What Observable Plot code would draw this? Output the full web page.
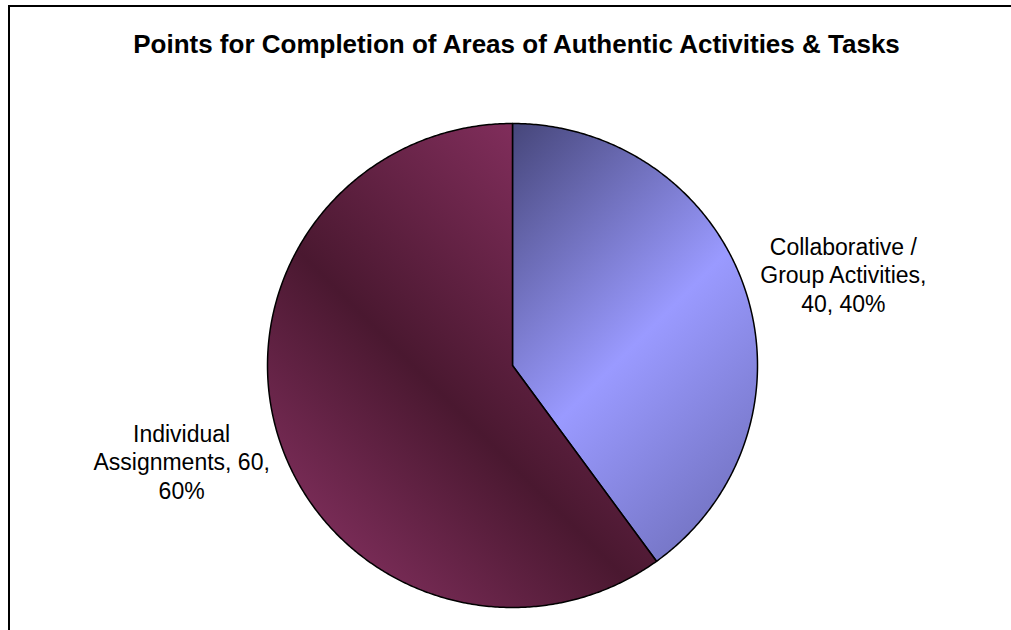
<!DOCTYPE html>
<html>
<head>
<meta charset="utf-8">
<script src="https://cdn.jsdelivr.net/npm/d3@7"></script>
<script src="https://cdn.jsdelivr.net/npm/@observablehq/plot@0.6"></script>
<style>
  body { margin: 0; background: #fff; }
  #wrap { position: relative; width: 1011px; height: 630px; overflow: hidden; background: #fff; font-family: "Liberation Sans", Arial, sans-serif; }
  #frame { position: absolute; left: 8px; top: 5px; width: 1100px; height: 700px; border-left: 2px solid #000; border-top: 2px solid #000; }
  #title { position: absolute; left: 0; top: 29px; width: 1033px; text-align: center; font-size: 26px; line-height: 30px; font-weight: bold; color: #000; white-space: nowrap; }
  #chart { position: absolute; left: 0; top: 70px; }
</style>
</head>
<body>
<div id="wrap">
  <div id="frame"></div>
  <div id="title"></div>
  <div id="chart"></div>
</div>
<script>
// ---- data ----
const title = "Points for Completion of Areas of Authentic Activities & Tasks";
const categories = ["Collaborative / Group Activities", "Individual Assignments"];
const values = [40, 60];
const gradientIds = ["gradCollab", "gradIndiv"];

document.getElementById("title").textContent = title;

// ---- geometry derived from data ----
const total = d3.sum(values);
const arcs = d3.pie().sort(null).value(d => d)(values);

const slicePoints = arcs.map((a, i) => {
  const pts = [{x: 0, y: 0, k: i}];
  const n = Math.max(2, Math.ceil((a.endAngle - a.startAngle) / (Math.PI / 360)));
  for (let j = 0; j <= n; j++) {
    const t = a.startAngle + (a.endAngle - a.startAngle) * j / n;
    pts.push({x: Math.sin(t), y: Math.cos(t), k: i});
  }
  pts.push({x: 0, y: 0, k: i});
  return pts;
});

function wrap(text, maxChars) {
  const words = text.split(" ");
  const lines = [];
  let cur = "";
  for (const w of words) {
    if (cur && (cur + " " + w).length > maxChars) { lines.push(cur); cur = w; }
    else cur = cur ? cur + " " + w : w;
  }
  if (cur) lines.push(cur);
  return lines.join("\n");
}

const labels = arcs.map((a, i) => {
  const mid = (a.startAngle + a.endAngle) / 2;
  const pct = Math.round(values[i] / total * 100);
  return {
    x: Math.sin(mid) * 1.42,
    y: Math.cos(mid) * 1.25,
    text: wrap(`${categories[i]}, ${values[i]}, ${pct}%`, 17)
  };
});

const plot = Plot.plot({
  width: 1011,
  height: 560,
  margin: 0,
  x: {domain: [-1, 1], range: [267, 757], axis: null},
  y: {domain: [-1, 1], range: [537, 53], axis: null},
  style: {background: "transparent", overflow: "visible", fontFamily: "'Liberation Sans', Arial, sans-serif"},
  marks: [
    ...slicePoints.map((pts, i) => Plot.line(pts, {
      x: "x", y: "y", fill: `url(#${gradientIds[i]})`, stroke: "#000", strokeWidth: 1.5, strokeLinejoin: "round"
    })),
    Plot.text(labels, {
      x: "x", y: "y", text: "text", fontSize: 23, lineHeight: 1.24,
      textAnchor: "middle", fill: "#000", dy: 2
    })
  ]
});

// gradients (style only)
const defs = d3.select(plot).insert("defs", ":first-child");
const g0 = defs.append("linearGradient").attr("id", gradientIds[0])
  .attr("gradientUnits", "userSpaceOnUse")
  .attr("x1", 512).attr("y1", 53).attr("x2", 824).attr("y2", 365);
g0.append("stop").attr("offset", 0).attr("stop-color", "#46467a");
g0.append("stop").attr("offset", 0.55).attr("stop-color", "#9a9aff");
g0.append("stop").attr("offset", 1).attr("stop-color", "#7272c0");
const g1 = defs.append("linearGradient").attr("id", gradientIds[1])
  .attr("gradientUnits", "userSpaceOnUse")
  .attr("x1", 300).attr("y1", 490).attr("x2", 620).attr("y2", 170);
g1.append("stop").attr("offset", 0).attr("stop-color", "#83305f");
g1.append("stop").attr("offset", 0.48).attr("stop-color", "#4a1830");
g1.append("stop").attr("offset", 1).attr("stop-color", "#7f2d5a");

document.getElementById("chart").appendChild(plot);
</script>
</body>
</html>
